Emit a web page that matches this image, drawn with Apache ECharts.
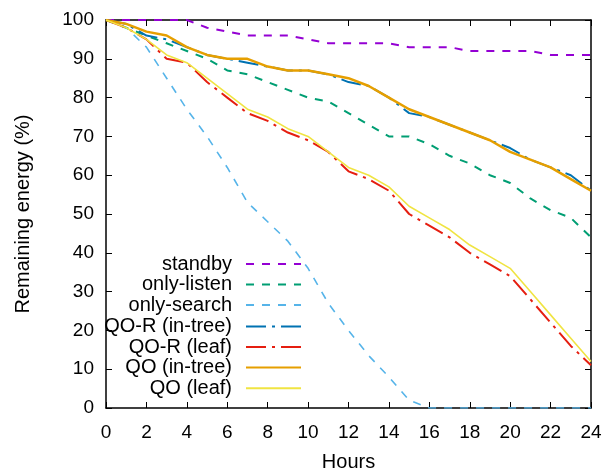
<!DOCTYPE html>
<html><head><meta charset="utf-8">
<script src="https://cdn.jsdelivr.net/npm/echarts@6/dist/echarts.min.js"></script>
<style>html,body{margin:0;padding:0;background:#fff}#c{width:607px;height:469px}</style>
</head><body><div id="c"></div>
<script>
const hours = [0,1,2,3,4,5,6,7,8,9,10,11,12,13,14,15,16,17,18,19,20,21,22,23,24];
const standby     = [100,100,100,100,100,98,97,96,96,96,95,94,94,94,94,93,93,93,92,92,92,92,91,91,91];
const onlyListen  = [100,98,96,94,92,90,87,86,84,82,80,79,76,73,70,70,68,65,63,60,58,54,51,49,44];
const onlySearch  = [100,98,93,85,77,70,62,53,48,43,36,27,20,13.5,8,2,0,0,0,0,0,0,0,0,0];
const qorInTree   = [100,99,96,95,93,91,90,89,88,87,87,86,84,83,80,76,75,73,71,69,67,64,62,60,56];
const qorLeaf     = [100,98,95,90,89,84,80,76,74,71,69,66,61,59,56,50,47,44,40,37,34,28,22,16,11];
const qoInTree    = [100,99,97,96,93,91,90,90,88,87,87,86,85,83,80,77,75,73,71,69,66,64,62,59,56];
const qoLeaf      = [100,98,95,91,89,85,81,77,75,72,70,66,62,60,57,52,49,46,42,39,36,30,24,18,12];
const xTicks = [0,2,4,6,8,10,12,14,16,18,20,22,24];
const yTicks = [0,10,20,30,40,50,60,70,80,90,100];

const names = ['standby','only-listen','only-search','QO-R (in-tree)','QO-R (leaf)','QO (in-tree)','QO (leaf)'];
const values = [standby,onlyListen,onlySearch,qorInTree,qorLeaf,qoInTree,qoLeaf];
const colors = ['#9400D3','#009E73','#56B4E9','#0072B2','#E51E10','#E69F00','#F0E442'];
const widths = [2,2,1.6,2,2,2.5,1.6];
const dashes = [[8,8],[8,8],[8,8],[20,6,3,6],[20,6,3,6],'solid','solid'];
const legendY = [264,284.5,305,326.5,347,367.5,388.2];

const FONT = 'Liberation Sans, Arial, sans-serif';
const chart = echarts.init(document.getElementById('c'), null, {renderer:'canvas'});
const axisCommon = {
  axisLine:{show:true,onZero:false,lineStyle:{color:'#000',width:1.5}},
  axisTick:{show:true,inside:true,length:6,lineStyle:{color:'#000',width:1}},
  splitLine:{show:false}
};
const series = names.map((n,i)=>({
  name:n, type:'line', symbol:'none', showSymbol:false,
  data: hours.map((h,j)=>[h, values[i][j]]),
  lineStyle:{color:colors[i], width:widths[i], type:dashes[i]},
  itemStyle:{color:colors[i]},
  z: 2+i, animation:false
}));
const legends = names.map((n,i)=>({
  data:[n], orient:'vertical', right:305, top:legendY[i]-10, padding:0,
  align:'right', itemWidth:55, itemHeight:20,
  itemStyle:{opacity:0},
  textStyle:{fontFamily:FONT,fontSize:20,color:'#000',padding:[0,9,0,0],lineHeight:20},
  selectedMode:false
}));
chart.setOption({
  animation:false,
  textStyle:{fontFamily:FONT},
  grid:{left:106,right:16,top:20,bottom:61,containLabel:false,outerBoundsMode:'none'},
  legend: legends,
  xAxis:[
    Object.assign({type:'value',min:0,max:24,interval:2,position:'bottom',
      name:'Hours',nameLocation:'middle',nameGap:44,
      nameTextStyle:{fontFamily:FONT,fontSize:20,color:'#000'},
      axisLabel:{fontFamily:FONT,fontSize:19,color:'#000',margin:15,
        formatter:v=>xTicks.includes(v)?String(v):''}},axisCommon),
    Object.assign({type:'value',min:0,max:24,interval:2,position:'top',axisLabel:{show:false}},axisCommon)
  ],
  yAxis:[
    Object.assign({type:'value',min:0,max:100,interval:10,position:'left',
      name:'Remaining energy (%)',nameLocation:'middle',nameGap:73,nameRotate:90,
      nameTextStyle:{fontFamily:FONT,fontSize:20,color:'#000'},
      axisLabel:{fontFamily:FONT,fontSize:19,color:'#000',margin:12,
        formatter:v=>yTicks.includes(v)?String(v):''}},axisCommon),
    Object.assign({type:'value',min:0,max:100,interval:10,position:'right',axisLabel:{show:false}},axisCommon)
  ],
  series: series
});
</script></body></html>
